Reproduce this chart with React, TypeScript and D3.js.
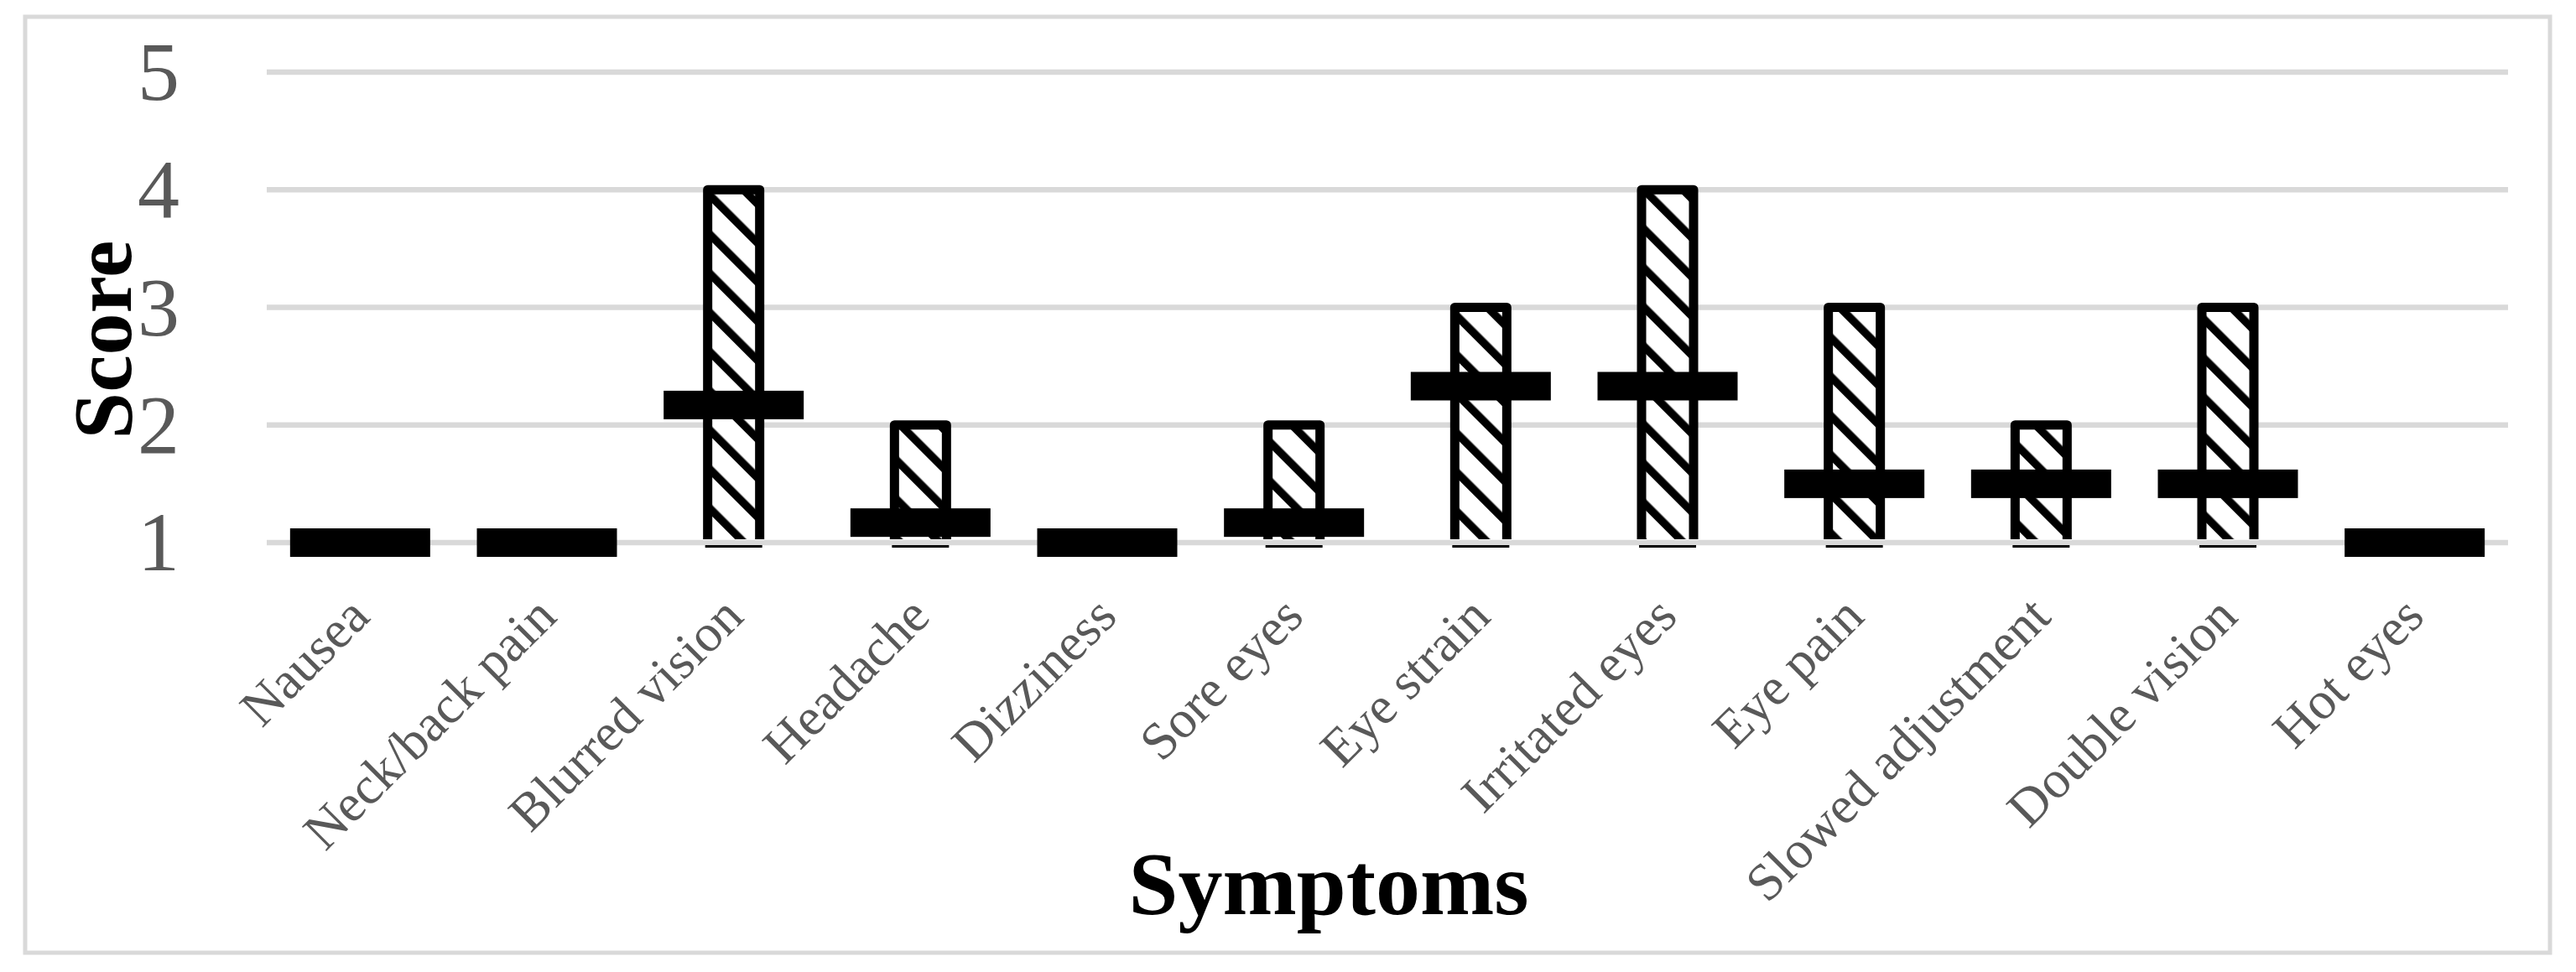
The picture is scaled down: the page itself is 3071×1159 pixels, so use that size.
import React, { useEffect, useRef } from 'react';
import * as d3 from 'd3';

// Symptom categories along the x axis
const symptoms = [
  'Nausea',
  'Neck/back pain',
  'Blurred vision',
  'Headache',
  'Dizziness',
  'Sore eyes',
  'Eye strain',
  'Irritated eyes',
  'Eye pain',
  'Slowed adjustment',
  'Double vision',
  'Hot eyes',
];

// highest score reported per symptom (top of hatched bar)
const maxScores = [1, 1, 4, 2, 1, 2, 3, 4, 3, 2, 3, 1];

// mean score per symptom (black dash marker)
const meanScores = [1, 1, 2.17, 1.17, 1, 1.17, 2.33, 2.33, 1.5, 1.5, 1.5, 1];

const yTicks = [1, 2, 3, 4, 5];

const WIDTH = 3071;
const HEIGHT = 1159;

export default function App() {
  const ref = useRef<SVGSVGElement | null>(null);

  useEffect(() => {
    if (!ref.current) return;
    const svg = d3.select(ref.current);
    svg.selectAll('*').remove();

    const font = "'Liberation Serif', 'Times New Roman', serif";
    const grey = '#d9d9d9';
    const labelColor = '#595959';

    const plot = { left: 318, right: 2990, top: 86, bottom: 647 };

    const x = d3.scaleBand<string>()
      .domain(symptoms)
      .range([plot.left, plot.right])
      .padding(0);

    const y = d3.scaleLinear()
      .domain([1, 5])
      .range([plot.bottom, plot.top]);

    // hatch pattern for the range bars
    const defs = svg.append('defs');
    const pattern = defs.append('pattern')
      .attr('id', 'hatch')
      .attr('patternUnits', 'userSpaceOnUse')
      .attr('width', 33)
      .attr('height', 33)
      .attr('patternTransform', 'rotate(-45)');
    pattern.append('rect')
      .attr('width', 33)
      .attr('height', 33)
      .attr('fill', '#fff');
    pattern.append('rect')
      .attr('x', 0)
      .attr('width', 9.5)
      .attr('height', 33)
      .attr('fill', '#000');

    // outer chart frame
    svg.append('rect')
      .attr('x', 30)
      .attr('y', 20)
      .attr('width', 3010)
      .attr('height', 1116)
      .attr('fill', '#fff')
      .attr('stroke', grey)
      .attr('stroke-width', 5);

    // gridlines
    svg.append('g')
      .selectAll('line')
      .data(yTicks)
      .join('line')
      .attr('x1', plot.left)
      .attr('x2', plot.right)
      .attr('y1', d => y(d))
      .attr('y2', d => y(d))
      .attr('stroke', grey)
      .attr('stroke-width', 6.5);

    // y tick labels
    svg.append('g')
      .selectAll('text')
      .data(yTicks)
      .join('text')
      .attr('x', 214)
      .attr('y', d => y(d))
      .attr('dy', '0.33em')
      .attr('text-anchor', 'end')
      .attr('fill', labelColor)
      .style('font-family', font)
      .style('font-size', '100px')
      .text(d => d);

    const rows = symptoms.map((s, i) => ({ s, max: maxScores[i], mean: meanScores[i] }));
    const barW = 62;
    const cx = (s: string) => x(s)! + x.bandwidth() / 2;

    // range bars (from axis minimum up to max score)
    const bars = svg.append('g')
      .selectAll('g')
      .data(rows.filter(d => d.max > 1))
      .join('g');

    bars.append('rect')
      .attr('x', d => cx(d.s) - barW / 2)
      .attr('y', d => y(d.max))
      .attr('width', barW)
      .attr('height', d => y(1) - 4 - y(d.max))
      .attr('fill', 'url(#hatch)');

    bars.append('path')
      .attr('d', d => {
        const l = cx(d.s) - barW / 2;
        const r = cx(d.s) + barW / 2;
        return `M${l},${y(1) - 4}V${y(d.max)}H${r}V${y(1) - 4}`;
      })
      .attr('fill', 'none')
      .attr('stroke', '#000')
      .attr('stroke-width', 11)
      .attr('stroke-linejoin', 'round');

    bars.append('line')
      .attr('x1', d => cx(d.s) - barW / 2 - 3)
      .attr('x2', d => cx(d.s) + barW / 2 + 3)
      .attr('y1', y(1) + 4.5)
      .attr('y2', y(1) + 4.5)
      .attr('stroke', '#000')
      .attr('stroke-width', 3);

    // mean markers
    const markW = x.bandwidth() * 0.75;
    svg.append('g')
      .selectAll('rect')
      .data(rows)
      .join('rect')
      .attr('x', d => cx(d.s) - markW / 2)
      .attr('y', d => y(d.mean) - 17)
      .attr('width', markW)
      .attr('height', 34)
      .attr('fill', '#000');

    // category labels, rotated
    svg.append('g')
      .selectAll('text')
      .data(symptoms)
      .join('text')
      .attr('transform', d => `translate(${cx(d) + 14},${y(1) + 91}) rotate(-45)`)
      .attr('text-anchor', 'end')
      .attr('fill', labelColor)
      .style('font-family', font)
      .style('font-size', '63px')
      .text(d => d);

    // axis titles
    svg.append('text')
      .attr('transform', 'translate(156,405) rotate(-90)')
      .attr('text-anchor', 'middle')
      .attr('fill', '#000')
      .style('font-family', font)
      .style('font-weight', 'bold')
      .style('font-size', '100px')
      .text('Score');

    svg.append('text')
      .attr('x', 1584)
      .attr('y', 1090)
      .attr('text-anchor', 'middle')
      .attr('fill', '#000')
      .style('font-family', font)
      .style('font-weight', 'bold')
      .style('font-size', '106px')
      .text('Symptoms');
  }, []);

  return (
    <svg
      ref={ref}
      width={WIDTH}
      height={HEIGHT}
      style={{ position: 'absolute', left: 0, top: 0, background: '#fff' }}
    />
  );
}
